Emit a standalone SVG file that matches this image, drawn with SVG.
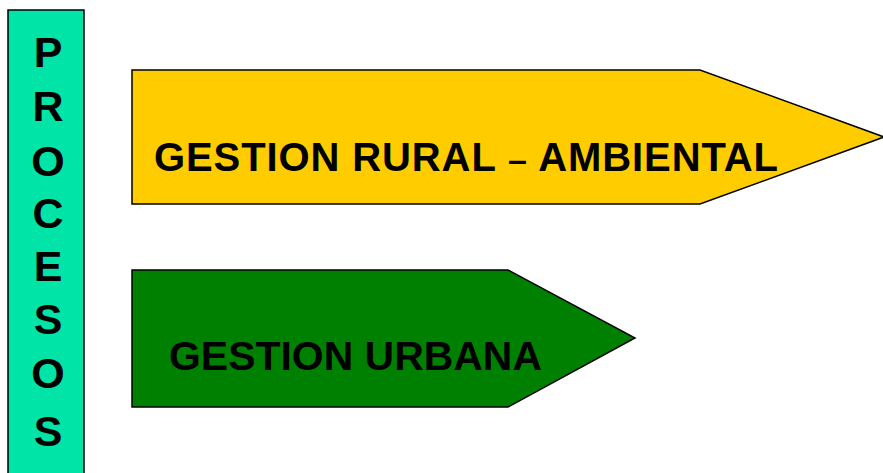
<svg xmlns="http://www.w3.org/2000/svg" width="883" height="473" viewBox="0 0 883 473">
<style>
.shape{stroke:#000;stroke-width:1.5;stroke-linejoin:miter}
.lbl{font-family:"Liberation Sans",Arial,sans-serif;font-weight:bold;fill:#000}
.v{font-size:43px;text-anchor:middle}
.h{font-size:40px}
.dash{font-size:34px}
</style>
<rect width="883" height="473" fill="#fff"/>
<g id="procesos">
<rect class="shape" x="8" y="10" width="76" height="470" fill="#00E4A8"/>
<text class="lbl v" x="48" y="67">P</text>
<text class="lbl v" x="48" y="121">R</text>
<text class="lbl v" x="48" y="176">O</text>
<text class="lbl v" x="48" y="228">C</text>
<text class="lbl v" x="48" y="281">E</text>
<text class="lbl v" x="48" y="334">S</text>
<text class="lbl v" x="48" y="388">O</text>
<text class="lbl v" x="48" y="446">S</text>
</g>
<g id="rural">
<polygon class="shape" points="132,70 700,70 884,137 700,204 132,204" fill="#FFCC00"/>
<text class="lbl h" x="154" y="171" textLength="624" lengthAdjust="spacing">GESTION RURAL <tspan class="dash">–</tspan> AMBIENTAL</text>
</g>
<g id="urbana">
<polygon class="shape" points="132,270 508,270 635,338 508,407 132,407" fill="#008000"/>
<text class="lbl h" x="169" y="370" textLength="373" lengthAdjust="spacingAndGlyphs">GESTION URBANA</text>
</g>
<g id="connectors"></g>
</svg>
